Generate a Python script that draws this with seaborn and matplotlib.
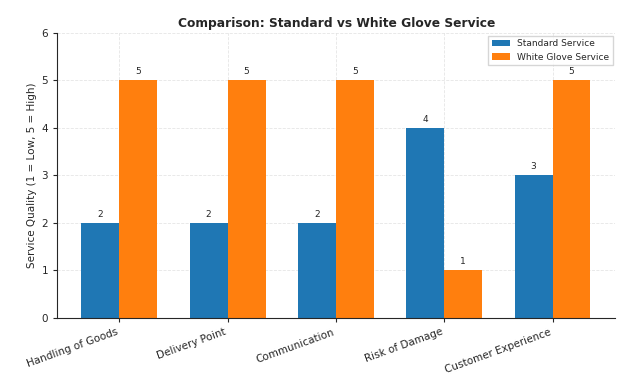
import matplotlib
matplotlib.use("Agg")
import matplotlib.pyplot as plt
import seaborn as sns
import pandas as pd

categories = ["Handling of Goods", "Delivery Point", "Communication",
              "Risk of Damage", "Customer Experience"]
standard = [2, 2, 2, 4, 3]
white_glove = [5, 5, 5, 1, 5]
series_names = ["Standard Service", "White Glove Service"]

df = pd.DataFrame({
    "Aspect": categories * 2,
    "Score": standard + white_glove,
    "Service": [series_names[0]] * len(categories) + [series_names[1]] * len(categories),
})

sns.set_style("white")
plt.rcParams['font.family'] = ['DejaVu Sans']

fig, ax = plt.subplots(figsize=(6.43, 3.78), dpi=100)
sns.barplot(data=df, x="Aspect", y="Score", hue="Service",
            palette=["#1f77b4", "#ff7f0e"], width=0.7, saturation=1,
            linewidth=0, ax=ax)

for container in ax.containers:
    ax.bar_label(container, padding=3, fontsize=6.5)

ax.set_xlim(-0.573, 4.58)
ax.set_ylim(0, 6)
ax.set_title("Comparison: Standard vs White Glove Service",
             fontsize=8.8, fontweight="bold", pad=4)
ax.set_xlabel("")
ax.set_ylabel("Service Quality (1 = Low, 5 = High)", fontsize=7.5, labelpad=3)
ax.tick_params(axis="y", labelsize=7.5, left=True, length=3)
ax.tick_params(axis="x", labelsize=7.5, bottom=True, length=3)
plt.setp(ax.get_xticklabels(), rotation=20, ha="right")
ax.grid(True, linestyle="--", alpha=0.5, linewidth=0.6)
ax.set_axisbelow(True)
for s in ["top", "right"]:
    ax.spines[s].set_visible(False)
ax.legend(loc="upper right", fontsize=6.5, title=None, fancybox=False,
          borderaxespad=0.3)

fig.subplots_adjust(left=0.089, right=0.957, top=0.913, bottom=0.159)
fig.savefig("out.png", dpi=100)
